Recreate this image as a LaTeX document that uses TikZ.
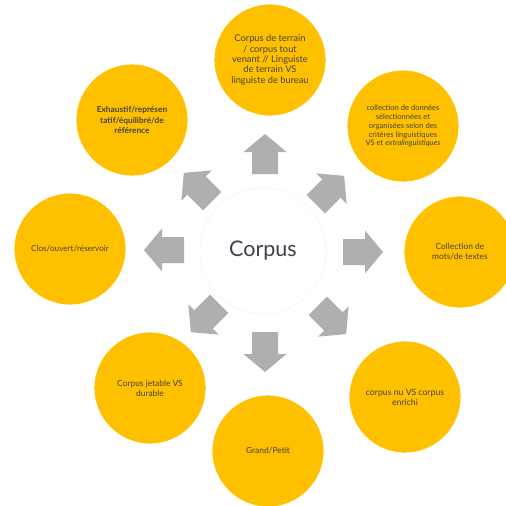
\documentclass[tikz,border=0pt]{standalone}
\usepackage{fontspec}
\setmainfont{Lato}
\definecolor{gold}{HTML}{FFC000}
\definecolor{agray}{HTML}{AFAFB1}
\definecolor{btext}{HTML}{454232}
\definecolor{ctext}{HTML}{3F3F4E}
\begin{document}
\begin{tikzpicture}[x=1pt,y=-1pt,
  bub/.style={circle,fill=gold,draw=white,line width=0.8pt,minimum size=112pt,inner sep=0pt,align=center,text=btext},
  blockarrow/.pic={\fill[agray] (-20,-13) -- (2,-13) -- (2,-21.5) -- (20,0) -- (2,21.5) -- (2,13) -- (-20,13) -- cycle;}]
\useasboundingbox[fill=white] (0,0) rectangle (506,506);
% centre
\node[circle,draw=black!4,line width=0.6pt,minimum size=126pt,inner sep=0pt,text=ctext,font=\fontsize{21.5}{24}\selectfont] (core) at (263,251) {Corpus};
% bubbles
\node[bub,font=\fontsize{9.3}{10.3}\selectfont] (c1) at (270,60) {Corpus de terrain\\/ corpus tout\\venant // Linguiste\\de terrain VS\\linguiste de bureau};
\node[bub,font=\fontsize{7.6}{8.9}\selectfont] (c2) at (403,126) {collection de données\\sélectionnées et\\organisées selon des\\critères linguistiques\\VS et \textit{extralinguistiques}};
\node[bub,font=\fontsize{8.4}{10}\selectfont] (c3) at (460,252) {Collection de\\mots/de textes};
\node[bub,font=\fontsize{8.7}{10}\selectfont] (c4) at (405,397) {corpus nu VS corpus\\enrichi};
\node[bub,font=\fontsize{8.4}{10}\selectfont] (c5) at (268,451) {Grand/Petit};
\node[bub,font=\fontsize{8.4}{10}\selectfont] (c6) at (150,388) {Corpus jetable VS\\durable};
\node[bub,font=\fontsize{8.2}{10}\selectfont] (c7) at (70,249) {Clos/ouvert/réservoir};
\node[bub,font=\bfseries\fontsize{8.3}{10.5}\selectfont] (c8) at (132,120) {Exhaustif/représen\\tatif/équilibré/de\\référence};
% arrows
\pic[rotate=90] (a1) at (265,154) {blockarrow};
\pic[rotate=45] (a2) at (330,190) {blockarrow};
\pic[rotate=0] (a3) at (363,252) {blockarrow};
\pic[rotate=-45] (a4) at (332,320) {blockarrow};
\pic[rotate=-90] (a5) at (265,352) {blockarrow};
\pic[rotate=-135] (a6) at (205,318) {blockarrow};
\pic[rotate=180] (a7) at (164,250) {blockarrow};
\pic[rotate=135] (a8) at (198,187) {blockarrow};
\end{tikzpicture}
\end{document}
